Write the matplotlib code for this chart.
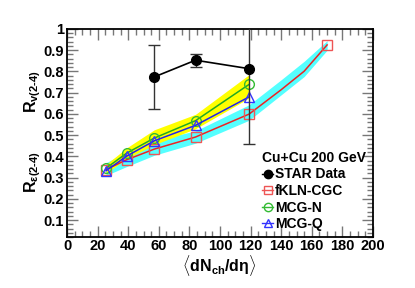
import matplotlib
matplotlib.use("Agg")
import matplotlib.pyplot as plt
from matplotlib.lines import Line2D
from matplotlib.ticker import MultipleLocator

plt.rcParams['font.family'] = ['Liberation Sans', 'DejaVu Sans']
plt.rcParams['font.weight'] = 'bold'
plt.rcParams['mathtext.fontset'] = 'custom'
plt.rcParams['mathtext.rm'] = 'Liberation Sans:bold'
plt.rcParams['mathtext.it'] = 'Liberation Sans:bold'
plt.rcParams['mathtext.bf'] = 'Liberation Sans:bold'

# STAR data
star_x = [57, 84, 119]
star_y = [0.774, 0.853, 0.813]
star_err = [0.152, 0.030, 0.354]

# fKLN-CGC
kln_x = [25.5, 39, 57, 84, 119, 170]
kln_y = [0.338, 0.384, 0.434, 0.491, 0.599, 0.925]
# fKLN curve
kln_curve_x = [25.5, 39, 57, 84, 119, 140, 155, 170]
kln_curve_y = [0.338, 0.384, 0.434, 0.491, 0.599, 0.714, 0.801, 0.925]
kln_band_lo = [0.310, 0.352, 0.405, 0.462, 0.570, 0.690, 0.776, 0.900]
kln_band_hi = [0.370, 0.420, 0.475, 0.520, 0.643, 0.761, 0.848, 0.945]

# MCG-N
mcgn_x = [25.5, 39, 57, 84, 119]
mcgn_y = [0.344, 0.415, 0.486, 0.568, 0.739]

# MCG-Q
mcgq_x = [25.5, 39, 57, 84, 119]
mcgq_y = [0.332, 0.401, 0.473, 0.546, 0.680]
mcg_band_lo = [0.320, 0.390, 0.455, 0.530, 0.675]
mcg_band_hi = [0.362, 0.440, 0.525, 0.598, 0.785]

fig = plt.figure(figsize=(4.15, 2.88), dpi=100)
ax = fig.add_axes([67/415, 1-237/288, (373-67)/415, (237-29)/288])

ax.fill_between(kln_curve_x, kln_band_lo, kln_band_hi, color='#55ffff', lw=0, zorder=1)
ax.fill_between(mcgn_x, mcg_band_lo, mcg_band_hi, color='#ffff00', lw=0, zorder=2)

ax.plot(kln_curve_x, kln_curve_y, color='#ee2222', lw=1.1, zorder=3)
ax.plot(kln_x, kln_y, ls='none', marker='s', ms=7, mfc='none', mec='#ee5555', mew=1.0, zorder=4)
ax.plot(mcgn_x, mcgn_y, color='#22aa22', lw=1.1, marker='o', ms=7, mfc='none', mec='#33bb33', mew=1.0, zorder=5)
ax.plot(mcgq_x, mcgq_y, color='#2222ee', lw=1.1, marker='^', ms=7, mfc='none', mec='#3333ff', mew=1.0, zorder=6)

ax.errorbar(star_x, star_y, yerr=star_err, color='black', lw=1.2, marker='o', ms=7,
            capsize=4, elinewidth=1.0, ecolor='#333333', capthick=1.0, zorder=7, clip_on=True)

ax.set_xlim(0, 200)
ax.set_ylim(0.02, 1.0)
ax.xaxis.set_major_locator(MultipleLocator(20))
ax.xaxis.set_minor_locator(MultipleLocator(5))
ax.yaxis.set_minor_locator(MultipleLocator(0.02))
ax.set_yticks([0.1, 0.2, 0.3, 0.4, 0.5, 0.6, 0.7, 0.8, 0.9, 1.0])
ax.set_yticklabels(['0.1', '0.2', '0.3', '0.4', '0.5', '0.6', '0.7', '0.8', '0.9', '1'])
ax.tick_params(which='both', direction='in', top=True, right=True, labelsize=10.5, color='#777777')
ax.tick_params(which='major', length=8, width=1.0, pad=2)
ax.tick_params(axis='x', which='major', pad=1.5)
ax.tick_params(which='minor', length=4, width=1.0)
for s in ax.spines.values():
    s.set_linewidth(1.3)
for lab in ax.get_xticklabels() + ax.get_yticklabels():
    lab.set_fontweight('bold')

fig.text(33/415, 1-92/288, r'R$_{\mathrm{v(2\text{-}4)}}$', rotation=90, ha='center', va='center', fontsize=11.5, fontweight='bold')
fig.text(33/415, 1-172/288, r'R$_{\epsilon\mathrm{(2\text{-}4)}}$', rotation=90, ha='center', va='center', fontsize=11.5, fontweight='bold')
fig.text(219/415, 1-272/288, r'$\langle$dN$_{\mathrm{ch}}$/d$\eta\rangle$', ha='center', va='baseline', fontsize=11.5, fontweight='bold')

handles = [
    Line2D([], [], color='black', marker='o', ms=6, lw=1.0),
    Line2D([], [], color='#ee5555', marker='s', ms=6, mfc='none', lw=1.0),
    Line2D([], [], color='#33bb33', marker='o', ms=6, mfc='none', lw=1.0),
    Line2D([], [], color='#3333ff', marker='^', ms=6, mfc='none', lw=1.0),
]
labels = ['STAR Data', 'fKLN-CGC', 'MCG-N', 'MCG-Q']
leg = ax.legend(handles, labels, loc='upper left', bbox_to_anchor=(262/415, 1-151/288),
                bbox_transform=fig.transFigure, frameon=False, handlelength=0.8,
                handletextpad=0.15, labelspacing=0.18, borderpad=0, borderaxespad=0,
                title='Cu+Cu 200 GeV', prop={'weight': 'bold', 'size': 10},
                title_fontproperties={'weight': 'bold', 'size': 10})
leg._legend_box.align = 'left'

fig.savefig('out.png', dpi=100)
